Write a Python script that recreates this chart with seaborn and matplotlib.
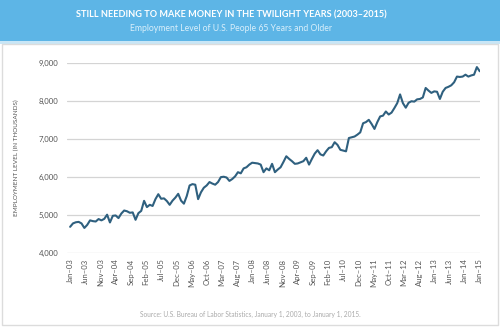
import numpy as np
import pandas as pd
import matplotlib
matplotlib.use("Agg")
import matplotlib.pyplot as plt
from matplotlib.patches import Rectangle
import seaborn as sns

title = "STILL NEEDING TO MAKE MONEY IN THE TWILIGHT YEARS (2003–2015)"
subtitle = "Employment Level of U.S. People 65 Years and Older"
ylabel = "EMPLOYMENT LEVEL (IN THOUSANDS)"
source = "Source: U.S. Bureau of Labor Statistics, January 1, 2003, to January 1, 2015."

employment = [
    4690, 4780, 4810, 4820, 4780, 4660, 4740, 4860, 4840, 4830,
    4895, 4860, 4900, 5010, 4805, 4980, 4990, 4920, 5040, 5120,
    5100, 5060, 5070, 4875, 5050, 5110, 5375, 5210, 5270, 5240,
    5420, 5550, 5430, 5440, 5370, 5270, 5380, 5460, 5560, 5380,
    5300, 5500, 5780, 5815, 5800, 5420, 5600, 5720, 5780, 5870,
    5830, 5800, 5870, 6000, 6010, 5990, 5900, 5950, 6020, 6130,
    6100, 6230, 6260, 6330, 6380, 6370, 6360, 6330, 6130, 6230,
    6180, 6350, 6130, 6200, 6260, 6400, 6550, 6480, 6420, 6350,
    6360, 6390, 6420, 6510, 6330, 6480, 6620, 6710, 6600, 6570,
    6680, 6770, 6790, 6920, 6850, 6720, 6700, 6680, 7030, 7050,
    7070, 7120, 7180, 7420, 7450, 7510, 7400, 7270, 7450, 7600,
    7620, 7730, 7650, 7700, 7820, 7950, 8180, 7950, 7830, 7960,
    8000, 7990, 8050, 8060, 8100, 8350, 8280, 8220, 8260, 8250,
    8060, 8250, 8350, 8380, 8420, 8500, 8650, 8640, 8650, 8700,
    8650, 8680, 8700, 8900, 8790,
]
month_index = list(range(len(employment)))

tick_labels = [
    "Jan–03", "Jun–03", "Nov–03", "Apr–04", "Sep–04", "Feb–05", "Jul–05",
    "Dec–05", "May–06", "Oct–06", "Mar–07", "Aug–07", "Jan–08", "Jun–08",
    "Nov–08", "Apr–09", "Sep–09", "Feb–10", "Jul–10", "Dec–10", "May–11",
    "Oct–11", "Mar–12", "Aug–12", "Jan–13", "Jun–13", "Jan–14", "Jan–15",
]
y_ticks = [4000, 5000, 6000, 7000, 8000, 9000]

df = pd.DataFrame({"month": month_index, "employment": employment})

sns.set_theme(style="white")
plt.rcParams["font.family"] = ["Lato", "DejaVu Sans"]

fig = plt.figure(figsize=(5.0, 3.27), dpi=100)
fig.patch.set_facecolor("white")

W, H = 500.0, 327.0
# header band
fig.patches.append(Rectangle((0, 1 - 41 / H), 1, 41 / H, transform=fig.transFigure,
                             facecolor="#5db5e6", edgecolor="none", zorder=0))
fig.patches.append(Rectangle((0, 1 - 44 / H), 1, 3 / H, transform=fig.transFigure,
                             facecolor="#c9e6f6", edgecolor="none", zorder=0))
# outer frame
fig.patches.append(Rectangle((2 / W, 2 / H), 496 / W, (H - 46) / H, transform=fig.transFigure,
                             facecolor="none", edgecolor="#dcdcdc", linewidth=1.0, zorder=0))

fig.text(231 / W, 1 - 15 / H, title, ha="center", va="center", color="white",
         fontsize=6.6, fontweight="bold")
fig.text(231 / W, 1 - 28.5 / H, subtitle, ha="center", va="center", color="#d9effb",
         fontsize=6.2)

ax = fig.add_axes([67 / W, 1 - 253 / H, (480 - 67) / W, (253 - 63.3) / H])
sns.lineplot(data=df, x="month", y="employment", ax=ax, color="#2f607f", linewidth=1.5)

ax.set_xlim(-1.1, 144.1)
ax.set_ylim(4000, 9000)
ax.set_yticks(y_ticks)
ax.set_yticklabels([f"{v:,}" for v in y_ticks])
ax.set_xticks(np.linspace(0, len(employment) - 1, len(tick_labels)))
ax.set_xticklabels(tick_labels, rotation=90)
ax.grid(axis="y", color="#d4d4d4", linewidth=0.9)
ax.set_axisbelow(True)
for s in ["top", "right", "left", "bottom"]:
    ax.spines[s].set_visible(False)
ax.tick_params(axis="both", length=0, colors="#555555", labelsize=5.6)
ax.tick_params(axis="y", pad=6)
ax.tick_params(axis="x", pad=4)
ax.set_xlabel("")
ax.set_ylabel(ylabel, fontsize=4.6, color="#555555", labelpad=14)
ax.yaxis.set_label_coords(-0.115, 0.5)
ax.set_facecolor("none")

fig.text(250 / W, 1 - 314 / H, source, ha="center", va="center", color="#aaaaaa",
         fontsize=4.8)

fig.savefig("out.png", dpi=100, facecolor="white")
